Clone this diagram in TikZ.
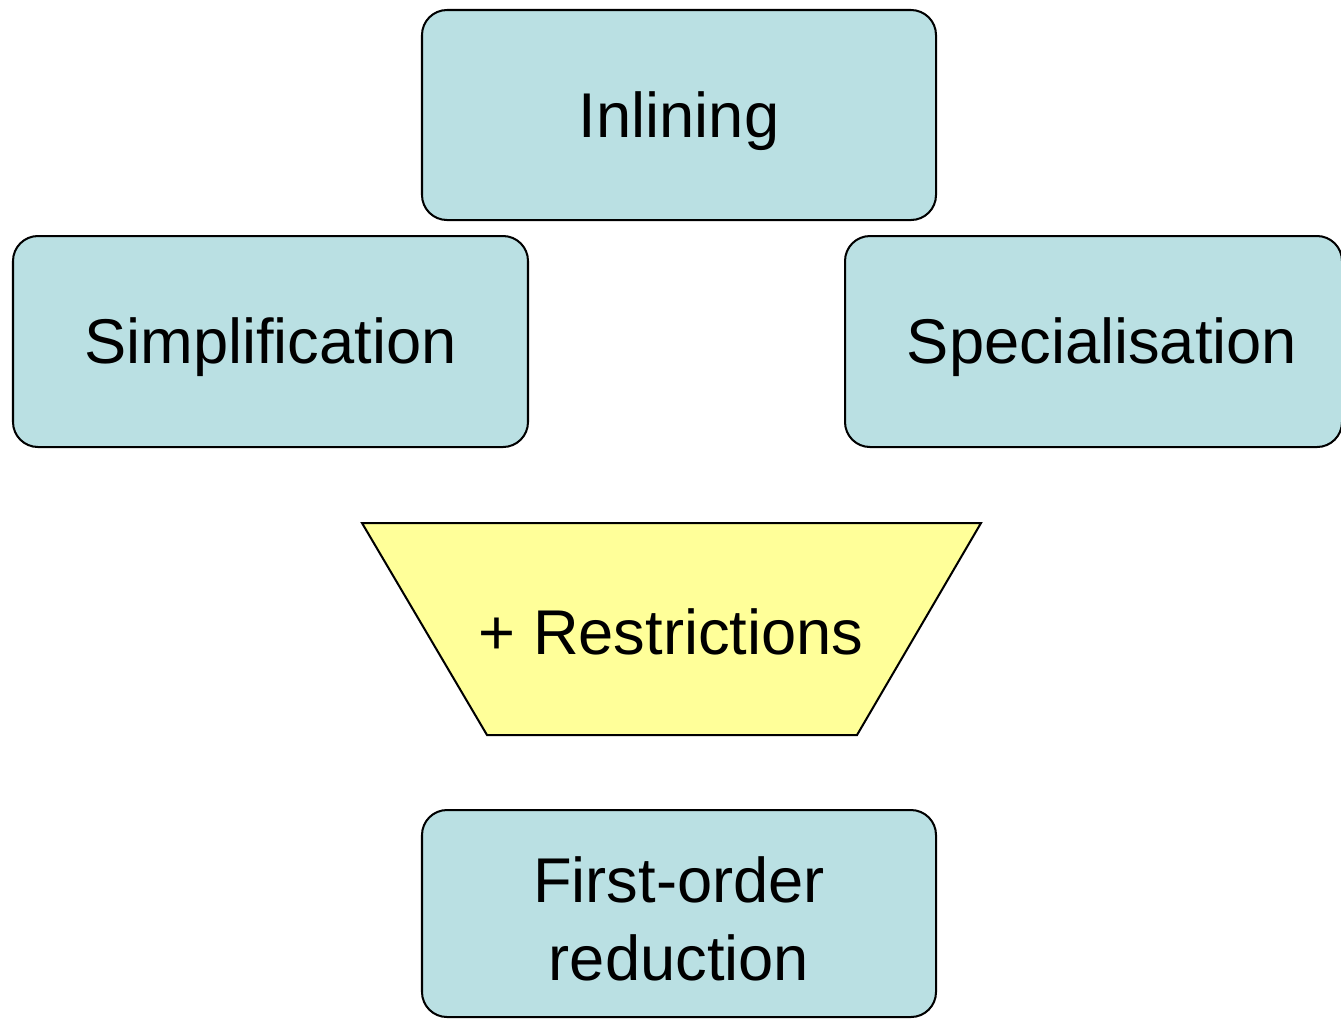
\documentclass[tikz,border=0pt]{standalone}
\usepackage{fontspec}
\setmainfont{Liberation Sans}
\definecolor{boxblue}{HTML}{BAE0E3}
\definecolor{boxyellow}{HTML}{FFFF99}
\begin{document}
\begin{tikzpicture}[x=0.02cm,y=-0.02cm,
  stepbox/.style={draw=black, line width=1.15pt, fill=boxblue, rounded corners=0.5cm, inner sep=0pt},
  label text/.style={font=\fontsize{36}{44}\selectfont, align=center, inner sep=0pt}]
\useasboundingbox (0,0) rectangle (1341,1019);
\clip (0,0) rectangle (1341,1019);
\node[stepbox, minimum width=514*0.02cm, minimum height=210*0.02cm] (inl) at (679,115) {};
\node[label text] (inlt) at (679,121) {Inlining};
\node[stepbox, minimum width=515*0.02cm, minimum height=211*0.02cm] (simp) at (270.5,341.5) {};
\node[label text] (simpt) at (270.5,347) {Simplification};
\node[stepbox, minimum width=497*0.02cm, minimum height=211*0.02cm] (spec) at (1093.5,341.5) {};
\node[label text] (spect) at (1102,347) {Specialisation};
\draw[line width=1.15pt, fill=boxyellow, line join=miter] (362,523) -- (981,523) -- (857,735) -- (487,735) -- cycle;
\node[label text] (restr) at (671,632) {+ Restrictions};
\node[stepbox, minimum width=514*0.02cm, minimum height=207*0.02cm] (fo) at (679,913.5) {};
\node[label text] (fot) at (679,919) {First-order\\reduction};
\end{tikzpicture}
\end{document}
